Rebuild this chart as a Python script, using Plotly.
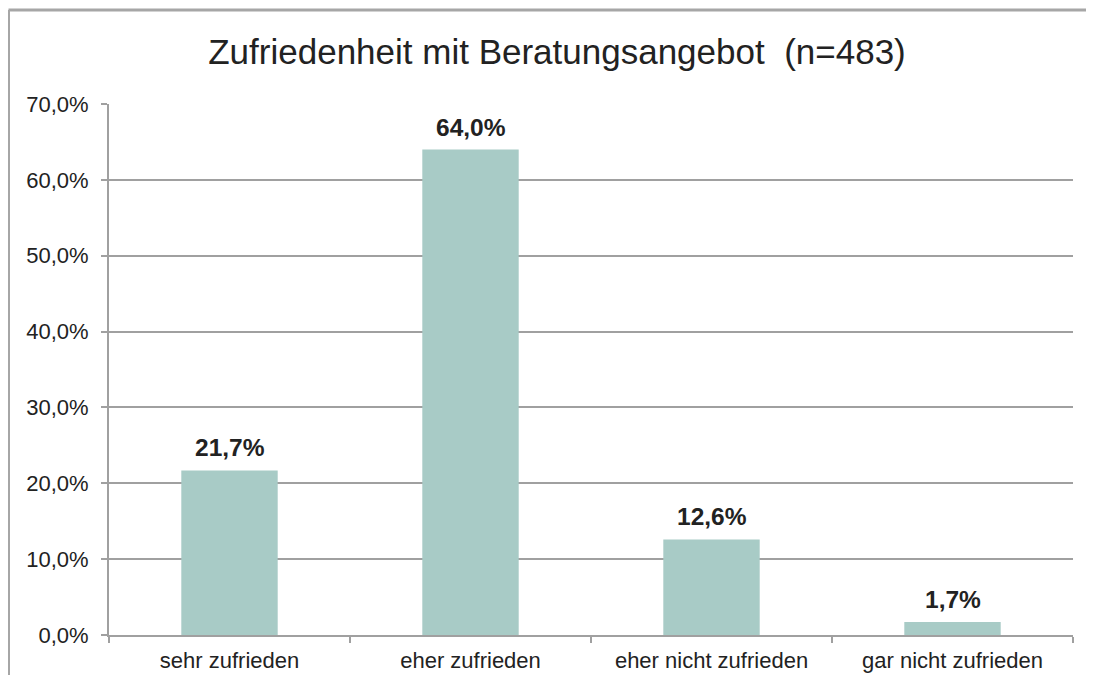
import plotly.graph_objects as go

categories = ["sehr zufrieden", "eher zufrieden", "eher nicht zufrieden", "gar nicht zufrieden"]
values = [21.7, 64.0, 12.6, 1.7]
y_ticks = [0, 10, 20, 30, 40, 50, 60, 70]
y_tick_text = [f"{v:.1f}%".replace(".", ",") for v in y_ticks]
value_labels = [f"{v:.1f}%".replace(".", ",") for v in values]

FONT = "Liberation Sans, Arial, sans-serif"
W, H = 1078, 667
L, R, T, B = 101, 13, 96, 40
PW, PH = W - L - R, H - T - B

fig = go.Figure()
fig.add_trace(go.Bar(
    x=categories, y=values,
    marker=dict(color="#A8CBC6", line=dict(width=0)),
    width=0.4,
    hoverinfo="skip",
))
for c, v, t in zip(categories, values, value_labels):
    fig.add_annotation(x=c, y=v, text=f"<b>{t}</b>", showarrow=False,
                       yanchor="bottom", yshift=7,
                       font=dict(family=FONT, size=24.5, color="#222222"))

fig.update_layout(
    width=W, height=H,
    margin=dict(l=L, r=R, t=T, b=B, autoexpand=False),
    paper_bgcolor="white", plot_bgcolor="white",
    showlegend=False,
    font=dict(family=FONT, color="#222222"),
    title=dict(text="Zufriedenheit mit Beratungsangebot  (n=483)", x=549 / W, xanchor="center",
               y=1 - 44 / H, yanchor="middle", font=dict(size=35, color="#222222")),
)
fig.update_xaxes(
    automargin=False,
    showline=True, linecolor="#A0A0A0", linewidth=2,
    ticks="outside", tickson="boundaries", ticklen=6, tickcolor="#A0A0A0", tickwidth=1.5,
    tickfont=dict(size=22, color="#222222"),
    ticklabelstandoff=5,
    showgrid=False,
)
fig.update_yaxes(
    automargin=False,
    range=[0, 70], tickvals=y_ticks, ticktext=y_tick_text,
    showline=True, linecolor="#A0A0A0", linewidth=2,
    ticks="outside", ticklen=6, tickcolor="#A0A0A0", tickwidth=1.5,
    showgrid=True, gridcolor="#A0A0A0", gridwidth=2,
    tickfont=dict(size=22, color="#222222"),
    ticklabelstandoff=8,
    zeroline=False,
)
# outer frame of the chart image
fx = (0.5 - L) / PW
fy = (H - B - 2) / PH
fig.add_shape(type="line", xref="paper", yref="paper", x0=fx, x1=fx, y0=-0.2, y1=fy,
              line=dict(color="#A6A6A6", width=3))
fig.add_shape(type="line", xref="paper", yref="paper", x0=fx, x1=1.05, y0=fy, y1=fy,
              line=dict(color="#A6A6A6", width=3))

fig.write_html("out.html")
